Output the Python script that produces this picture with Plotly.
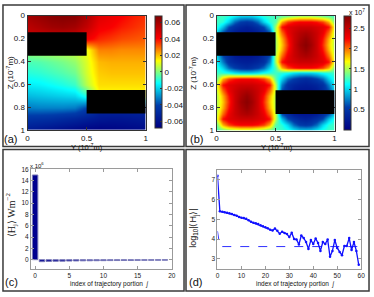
import plotly.graph_objects as go

W, H = 374, 297
def px(x): return x / W
def py(y): return 1 - y / H

# ---------------- data ----------------
# (a) potential-like field, grid z=0..1 (rows), y=0..1 (cols), step 0.1
a_x = [0.0, 0.1, 0.2, 0.3, 0.4, 0.5, 0.6, 0.7, 0.8, 0.9, 1.0]
a_z = [0.0, 0.1, 0.2, 0.3, 0.4, 0.5, 0.6, 0.7, 0.8, 0.9, 1.0]
a_rows = [
    "0.060 0.063 0.066 0.067 0.066 0.058 0.047 0.044 0.041 0.038 0.036",
    "0.055 0.058 0.061 0.062 0.060 0.053 0.043 0.041 0.038 0.036 0.034",
    "0.050 0.050 0.050 0.050 0.050 0.043 0.037 0.035 0.033 0.032 0.031",
    "0.004 0.005 0.006 0.007 0.008 0.012 0.027 0.027 0.026 0.026 0.026",
    "-0.006 -0.005 -0.003 -0.001 0.002 0.010 0.021 0.022 0.022 0.022 0.022",
    "-0.010 -0.009 -0.007 -0.005 -0.002 0.009 0.019 0.020 0.020 0.020 0.020",
    "-0.016 -0.015 -0.013 -0.011 -0.008 0.006 0.017 0.017 0.017 0.017 0.017",
    "-0.023 -0.022 -0.021 -0.020 -0.019 -0.010 0.013 0.013 0.013 0.013 0.013",
    "-0.032 -0.031 -0.031 -0.031 -0.032 -0.040 -0.050 -0.050 -0.050 -0.050 -0.050",
    "-0.045 -0.046 -0.047 -0.049 -0.051 -0.054 -0.057 -0.058 -0.058 -0.057 -0.056",
    "-0.056 -0.058 -0.060 -0.062 -0.064 -0.066 -0.067 -0.066 -0.065 -0.064 -0.063",
]
a_ticks = [-0.06, -0.04, -0.02, 0, 0.02, 0.04, 0.06]
a_ticktext = ["-0.06", "-0.04", "-0.02", "0", "0.02", "0.04", "0.06"]

# (b) intensity field (x 10^7), grid step 0.05
b_x = [i * 0.05 for i in range(21)]
b_z = [i * 0.05 for i in range(21)]
b_rows = [
    "1.25 1.25 1.2 1.1 1.0 1.0 1.0 1.1 1.2 1.25 1.25 1.3 1.35 1.4 1.45 1.45 1.45 1.4 1.35 1.3 1.25",
    "1.25 1.2 1.0 0.7 0.55 0.5 0.55 0.7 1.0 1.2 1.3 1.85 2.1 2.2 2.25 2.25 2.25 2.2 2.1 1.85 1.35",
    "1.2 0.95 0.6 0.45 0.35 0.3 0.35 0.45 0.6 0.95 1.5 2.2 2.35 2.4 2.45 2.45 2.45 2.4 2.35 2.2 1.6",
    "1.0 0.6 0.4 0.25 0.2 0.2 0.2 0.25 0.4 0.6 1.55 2.0 2.3 2.45 2.55 2.6 2.55 2.45 2.3 2.0 1.55",
    "0.8 0.4 0.2 0.15 0.1 0.1 0.1 0.15 0.2 0.4 1.5 1.85 2.2 2.45 2.6 2.7 2.6 2.45 2.2 1.85 1.5",
    "0.8 0.4 0.2 0.15 0.1 0.1 0.1 0.15 0.2 0.4 1.5 1.8 2.15 2.45 2.65 2.75 2.65 2.45 2.15 1.8 1.5",
    "0.8 0.4 0.2 0.15 0.1 0.1 0.1 0.15 0.2 0.4 1.5 1.85 2.2 2.45 2.6 2.7 2.6 2.45 2.2 1.85 1.5",
    "1.0 0.6 0.4 0.25 0.2 0.2 0.2 0.25 0.4 0.6 1.55 2.0 2.3 2.45 2.55 2.6 2.55 2.45 2.3 2.0 1.55",
    "1.1 0.75 0.45 0.35 0.3 0.28 0.3 0.35 0.45 0.75 1.5 2.2 2.35 2.4 2.45 2.45 2.45 2.4 2.35 2.2 1.6",
    "1.2 1.0 0.7 0.55 0.45 0.4 0.45 0.55 0.7 1.0 1.3 1.85 2.1 2.2 2.25 2.25 2.25 2.2 2.1 1.85 1.35",
    "1.25 1.2 1.15 1.05 1.0 1.0 1.0 1.05 1.15 1.2 1.25 1.2 1.15 1.05 1.0 1.0 1.0 1.05 1.15 1.2 1.25",
    "1.35 1.85 2.1 2.2 2.25 2.25 2.25 2.2 2.1 1.85 1.3 1.0 0.7 0.55 0.45 0.4 0.45 0.55 0.7 1.0 1.2",
    "1.6 2.2 2.35 2.4 2.45 2.45 2.45 2.4 2.35 2.2 1.5 0.75 0.45 0.35 0.3 0.28 0.3 0.35 0.45 0.75 1.1",
    "1.55 2.0 2.3 2.45 2.55 2.6 2.55 2.45 2.3 2.0 1.55 0.6 0.4 0.25 0.2 0.2 0.2 0.25 0.4 0.6 1.0",
    "1.5 1.85 2.2 2.45 2.6 2.7 2.6 2.45 2.2 1.85 1.5 0.4 0.2 0.15 0.1 0.1 0.1 0.15 0.2 0.4 0.8",
    "1.5 1.8 2.15 2.45 2.65 2.75 2.65 2.45 2.15 1.8 1.5 0.4 0.2 0.15 0.1 0.1 0.1 0.15 0.2 0.4 0.8",
    "1.5 1.85 2.2 2.45 2.6 2.7 2.6 2.45 2.2 1.85 1.5 0.4 0.2 0.15 0.1 0.1 0.1 0.15 0.2 0.4 0.8",
    "1.55 2.0 2.3 2.45 2.55 2.6 2.55 2.45 2.3 2.0 1.55 0.6 0.4 0.25 0.2 0.2 0.2 0.25 0.4 0.6 1.0",
    "1.6 2.2 2.35 2.4 2.45 2.45 2.45 2.4 2.35 2.2 1.5 0.95 0.6 0.45 0.35 0.3 0.35 0.45 0.6 0.95 1.2",
    "1.35 1.85 2.1 2.2 2.25 2.25 2.25 2.2 2.1 1.85 1.3 1.2 1.0 0.7 0.55 0.5 0.55 0.7 1.0 1.2 1.25",
    "1.25 1.3 1.35 1.4 1.45 1.45 1.45 1.4 1.35 1.3 1.25 1.25 1.2 1.1 1.0 1.0 1.0 1.1 1.2 1.25 1.25",
]
b_ticks = [0.5, 1, 1.5, 2, 2.5]
b_ticktext = ["0.5", "1", "1.5", "2", "2.5"]

# black obstacles (y0, y1, z0, z1) in units of 1e-7 m
obstacles = [(0.0, 0.5, 0.145, 0.35), (0.5, 1.0, 0.65, 0.855)]

# (c) mean intensity per trajectory portion (x 10^6 W m^-2)
c_j = list(range(20))
c_H = [15.0, -0.35, -0.3, -0.28, -0.26, -0.24, -0.22, -0.2, -0.19, -0.18,
       -0.17, -0.16, -0.15, -0.14, -0.13, -0.12, -0.11, -0.1, -0.09, -0.08]

# (d) log10 |<H_j>|
d_j = list(range(60))
d_logH = [7.2, 5.4, 5.38, 5.35, 5.33, 5.3, 5.27, 5.22, 5.18, 5.12,
          5.08, 5.06, 5.03, 4.95, 4.87, 4.82, 4.8, 4.76, 4.7, 4.65,
          4.6, 4.55, 4.47, 4.43, 4.53, 4.42, 4.27, 4.37, 4.3, 4.25,
          4.1, 4.32, 4.0, 3.98, 3.72, 4.18, 4.05, 3.85, 3.5, 3.95,
          3.75, 4.03, 3.8, 3.4, 3.85, 3.75, 3.98, 3.1, 3.4, 3.95,
          3.55, 3.35, 3.18, 3.65, 3.65, 4.05, 3.45, 3.85, 3.4, 2.7]
d_ref = [4.4] + [3.62] * 59

# ---------------- figure ----------------
fig = go.Figure()
FONT = "Liberation Sans, Arial, sans-serif"

def parse(rows):
    return [[float(v) for v in r.split()] for r in rows]

cb_common = dict(thickness=7, thicknessmode="pixels", lenmode="fraction",
                 xanchor="left", yanchor="middle", xpad=0, ypad=0,
                 outlinewidth=1, outlinecolor="#333", ticks="inside", ticklen=2,
                 tickcolor="#333", tickfont=dict(size=8, family=FONT, color="#111"))

fig.add_trace(go.Heatmap(x=a_x, z=parse(a_rows), y=a_z, colorscale="Jet",
                         zmin=-0.068, zmax=0.068, zsmooth="best",
                         xaxis="x", yaxis="y",
                         colorbar=dict(x=px(156), y=py(70), len=116 / H,
                                       tickvals=a_ticks, ticktext=a_ticktext, **cb_common)))
fig.add_trace(go.Heatmap(x=b_x, z=parse(b_rows), y=b_z, colorscale="Jet",
                         zmin=0.0, zmax=2.8, zsmooth="best",
                         xaxis="x2", yaxis="y2",
                         colorbar=dict(x=px(348), y=py(71), len=118 / H,
                                       tickvals=b_ticks, ticktext=b_ticktext, **cb_common)))
fig.add_trace(go.Bar(x=c_j, y=c_H, width=0.8, xaxis="x3", yaxis="y3",
                     marker=dict(color="#00008f", line=dict(color="#7a7ab8", width=1))))
fig.add_trace(go.Scatter(x=d_j, y=d_ref, mode="lines", xaxis="x4", yaxis="y4",
                         line=dict(color="#3030ff", width=1, dash="dash")))
fig.add_trace(go.Scatter(x=d_j, y=d_logH, mode="lines+markers", xaxis="x4", yaxis="y4",
                         line=dict(color="#1010ff", width=1.3),
                         marker=dict(color="#1010ff", size=2.5)))

ax_common = dict(showline=True, mirror="ticks", ticks="inside", ticklen=3,
                 showgrid=False, zeroline=False, linewidth=1)
dark = dict(linecolor="#333", tickcolor="#333", tickfont=dict(size=8, family=FONT, color="#111"))
grey = dict(linecolor="#9a9a9a", tickcolor="#9a9a9a", tickfont=dict(size=6.5, family=FONT, color="#222"))

fig.update_layout(
    width=W, height=H, margin=dict(l=0, r=0, t=0, b=0),
    paper_bgcolor="white", plot_bgcolor="white", showlegend=False,
    xaxis=dict(domain=[px(26), px(146)], range=[0, 1], tickvals=[0, 0.5, 1],
               ticktext=["0", "0.5", "1"], anchor="y", ticklabelstandoff=0, **ax_common, **dark),
    yaxis=dict(domain=[py(130), py(12)], range=[1, 0], tickvals=[0, 0.2, 0.4, 0.6, 0.8, 1],
               ticktext=["0", "0.2", "0.4", "0.6", "0.8", "1"], anchor="x", **ax_common, **dark),
    xaxis2=dict(domain=[px(218), px(338)], range=[0, 1], tickvals=[0, 0.5, 1],
                ticktext=["0", "0.5", "1"], anchor="y2", ticklabelstandoff=0, **ax_common, **dark),
    yaxis2=dict(domain=[py(130.5), py(12)], range=[1, 0], tickvals=[0, 0.2, 0.4, 0.6, 0.8, 1],
                ticktext=["0", "0.2", "0.4", "0.6", "0.8", "1"], anchor="x2", **ax_common, **dark),
    xaxis3=dict(domain=[px(29.5), px(172.5)], range=[-0.6, 20], tickvals=[0, 5, 10, 15, 20],
                anchor="y3", ticklabelstandoff=0, **ax_common, **grey),
    yaxis3=dict(domain=[py(273), py(170.5)], range=[-1.6, 16],
                tickvals=[0, 2, 4, 6, 8, 10, 12, 14, 16], anchor="x3", **ax_common, **grey),
    xaxis4=dict(domain=[px(219), px(365)], range=[0, 60], tickvals=[0, 10, 20, 30, 40, 50, 60],
                anchor="y4", ticklabelstandoff=0, **ax_common, **grey),
    yaxis4=dict(domain=[py(273), py(171)], range=[2.5, 7.5],
                tickvals=[3, 4, 5, 6, 7], anchor="x4", **ax_common, **grey),
)

shapes = []
for (xa, ya) in [("x", "y"), ("x2", "y2")]:
    for (y0, y1, z0, z1) in obstacles:
        shapes.append(dict(type="rect", xref=xa, yref=ya, x0=y0, x1=y1, y0=z0, y1=z1,
                           fillcolor="black", line=dict(width=0), layer="above"))
for (x0, y0, x1, y1) in [(1, 1, 185, 147), (187, 1, 373, 147), (1, 150, 185, 296), (187, 150, 373, 296)]:
    shapes.append(dict(type="rect", xref="paper", yref="paper", x0=px(x0), x1=px(x1),
                       y0=py(y1), y1=py(y0), line=dict(color="#3a3a3a", width=1.5)))
fig.update_layout(shapes=shapes)

def ann(text, x, y, size, angle=0, family=FONT, color="#111"):
    return dict(text=text, x=px(x), y=py(y), xref="paper", yref="paper",
                showarrow=False, textangle=angle, xanchor="center", yanchor="middle",
                font=dict(size=size, family=family, color=color))

anns = [
    ann("Y (10<sup>-7</sup>m)", 86, 147.5, 7.5),
    ann("Y (10<sup>-7</sup>m)", 279, 147.5, 7.5),
    ann("Z (10<sup>-7</sup>m)", 7.5, 71, 8, -90),
    ann("Z (10<sup>-7</sup>m)", 194, 71, 8, -90),
    ann("x 10<sup>7</sup>", 361, 8, 7),
    ann("(a)", 9, 139, 11),
    ann("(b)", 198, 139, 11),
    ann("(c)", 10, 287, 11),
    ann("(d)", 197, 287, 11),
    ann("x 10<sup>6</sup>", 36, 166, 6),
    ann("⟨H<sub>j</sub>⟩ Wm<sup>−2</sup>", 10, 217, 10, -90, "Liberation Serif, serif"),
    ann("index of trajectory portion  <i>j</i>", 109, 288.5, 6.5),
    ann("index of trajectory portion  <i>j</i>", 298, 288.5, 6.5),
    ann("log<sub>10</sub>|⟨H<sub>j</sub>⟩|", 195, 231, 9, -90),
]
fig.update_layout(annotations=anns)

fig.write_html("out.html", config={"displayModeBar": False},
               post_script="document.body.style.margin='0';document.body.style.overflow='hidden';")
